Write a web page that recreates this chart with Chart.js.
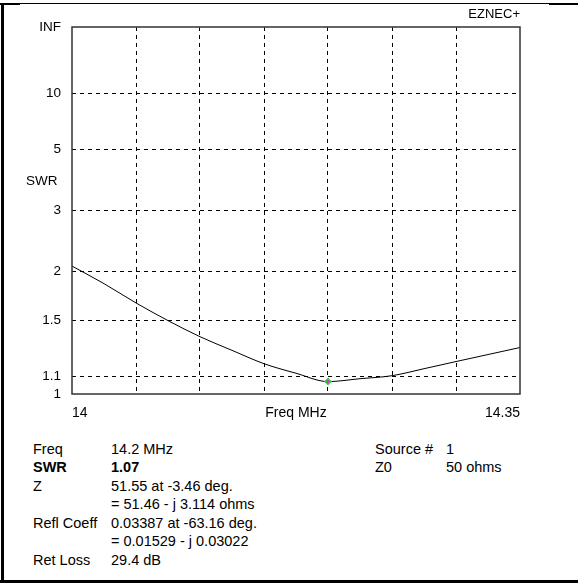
<!DOCTYPE html>
<html><head><meta charset="utf-8">
<script src="https://cdn.jsdelivr.net/npm/chart.js@4.4.0/dist/chart.umd.min.js"></script>
<style>
html,body{margin:0;padding:0;background:#fff;}
#wrap{position:relative;width:578px;height:583px;overflow:hidden;font-family:"Liberation Sans",Arial,sans-serif;color:#000;background:#fff;}
#c{position:absolute;left:0;top:0;width:578px;height:430px;}
.ln{position:absolute;background:#000;}
.t{position:absolute;font-size:14.5px;line-height:18.5px;white-space:pre;}
</style></head><body>
<div id="wrap">
<canvas id="c" width="578" height="430"></canvas>
<div class="ln" style="left:0;top:3px;width:549px;height:1px"></div>
<div class="ln" style="left:549px;top:3px;width:29px;height:2px"></div>
<div class="ln" style="left:0;top:3px;width:20px;height:2px"></div>
<div class="ln" style="left:1px;top:3px;width:3px;height:580px"></div>
<div class="ln" style="left:0;top:580px;width:578px;height:3px"></div>
<div id="info"></div>
</div>
<script>
// ---- data ----
const freqs = [14.000,14.025,14.050,14.075,14.100,14.125,14.150,14.175,14.200,14.225,14.250,14.275,14.300,14.325,14.350];
const swrValues = [2.07,1.86,1.66,1.50,1.37,1.27,1.18,1.12,1.07,1.087,1.105,1.148,1.194,1.241,1.29];
const markerFreq = [14.2];
const markerSwr = [1.07];
const yTickSwr = [1, 1.1, 1.5, 2, 3, 5, 10, Infinity];
const yTickLabels = ['1','1.1','1.5','2','3','5','10','INF'];
const xTickValues = [14.00,14.05,14.10,14.15,14.175,14.20,14.25,14.30,14.35];
const xTickLabels = ['14','','','','Freq MHz','','','','14.35'];
const xGridShown = [false,true,true,true,false,true,true,true,false];
const infoLeftLabels = ['Freq','SWR','Z','','Refl Coeff','','Ret Loss'];
const infoLeftValues = ['14.2 MHz','1.07','51.55 at -3.46 deg.','= 51.46 - j 3.114 ohms','0.03387 at -63.16 deg.','= 0.01529 - j 0.03022','29.4 dB'];
const infoRightLabels = ['Source #','Z0'];
const infoRightValues = ['1','50 ohms'];

// SWR -> reflection coefficient magnitude (EZNEC SWR axis is linear in rho)
function toRho(s){ return isFinite(s) ? (s-1)/(s+1) : 1; }

// ---- info panel ----
const info = document.getElementById('info');
function addText(txt, x, y, bold){
  const d = document.createElement('div');
  d.className = 't';
  d.style.left = x + 'px';
  d.style.top = y + 'px';
  if (bold) d.style.fontWeight = 'bold';
  d.textContent = txt;
  info.appendChild(d);
}
infoLeftLabels.forEach((t,i)=>{ addText(t, 33, 439.5 + i*18.5, i===1); });
infoLeftValues.forEach((t,i)=>{ addText(t, 111, 439.5 + i*18.5, i===1); });
infoRightLabels.forEach((t,i)=>{ addText(t, 375, 439.5 + i*18.5, false); });
infoRightValues.forEach((t,i)=>{ addText(t, 446, 439.5 + i*18.5, false); });

const FAM = '"Liberation Sans", Arial, sans-serif';

const decor = {
  id:'decor',
  afterDatasetsDraw(chart){
    const {ctx, chartArea:a} = chart;
    ctx.save();
    ctx.strokeStyle = '#333';
    ctx.lineWidth = 1.5;
    ctx.strokeRect(a.left, a.top, a.right - a.left, a.bottom - a.top);
    ctx.fillStyle = '#000';
    ctx.textBaseline = 'middle';
    ctx.font = '13.5px ' + FAM;
    ctx.textAlign = 'left';
    ctx.fillText('SWR', 26, 181);
    ctx.font = '13px ' + FAM;
    ctx.textAlign = 'right';
    ctx.fillText('EZNEC+', a.right, 14);
    ctx.restore();
  }
};

new Chart(document.getElementById('c'), {
  type:'line',
  data:{
    datasets:[
      {
        data: freqs.map((f,i)=>({x:f, y:toRho(swrValues[i])})),
        borderColor:'#000', borderWidth:1, pointRadius:0,
        cubicInterpolationMode:'monotone', fill:false, order:2
      },
      {
        data: markerFreq.map((f,i)=>({x:f, y:toRho(markerSwr[i])})),
        showLine:false, pointStyle:'rectRot', pointRadius:4,
        backgroundColor:'#22dd22', borderColor:'#22dd22', borderWidth:0, order:1
      },
      {
        data: markerFreq.map((f,i)=>({x:f, y:toRho(markerSwr[i])})),
        showLine:false, pointStyle:'circle', pointRadius:1.6,
        backgroundColor:'#ee22ee', borderColor:'#ee22ee', borderWidth:0, order:0
      }
    ]
  },
  options:{
    responsive:false, animation:false,
    layout:{padding:{left:0, top:27, right:58, bottom:0}},
    plugins:{legend:{display:false}, tooltip:{enabled:false}},
    scales:{
      x:{
        type:'linear', min:14, max:14.35,
        afterBuildTicks(s){ s.ticks = xTickValues.map(v=>({value:v})); },
        afterFit(s){ s.height = 36; },
        ticks:{ callback:(v,i)=>xTickLabels[i], autoSkip:false, maxRotation:0, align:'inner',
                padding:11, color:'#000', font:{family:FAM, size:14} },
        grid:{ drawTicks:false, lineWidth:1,
               color:(c)=> (c.index!==undefined && xGridShown[c.index]) ? '#000' : 'rgba(0,0,0,0)' },
        border:{ display:false, dash:[4,4] }
      },
      y:{
        type:'linear', min:0, max:1,
        afterBuildTicks(s){ s.ticks = yTickSwr.map(v=>({value:toRho(v)})); },
        afterFit(s){ s.width = 72; },
        ticks:{ callback:(v,i)=>yTickLabels[i], autoSkip:false, padding:11, color:'#000', font:{family:FAM, size:13.5} },
        grid:{ drawTicks:false, lineWidth:1,
               color:(c)=>{ const i=c.index; return (i===0 || i===yTickSwr.length-1) ? 'rgba(0,0,0,0)' : '#000'; } },
        border:{ display:false, dash:[4,4] }
      }
    }
  },
  plugins:[decor]
});
</script>
</body></html>
